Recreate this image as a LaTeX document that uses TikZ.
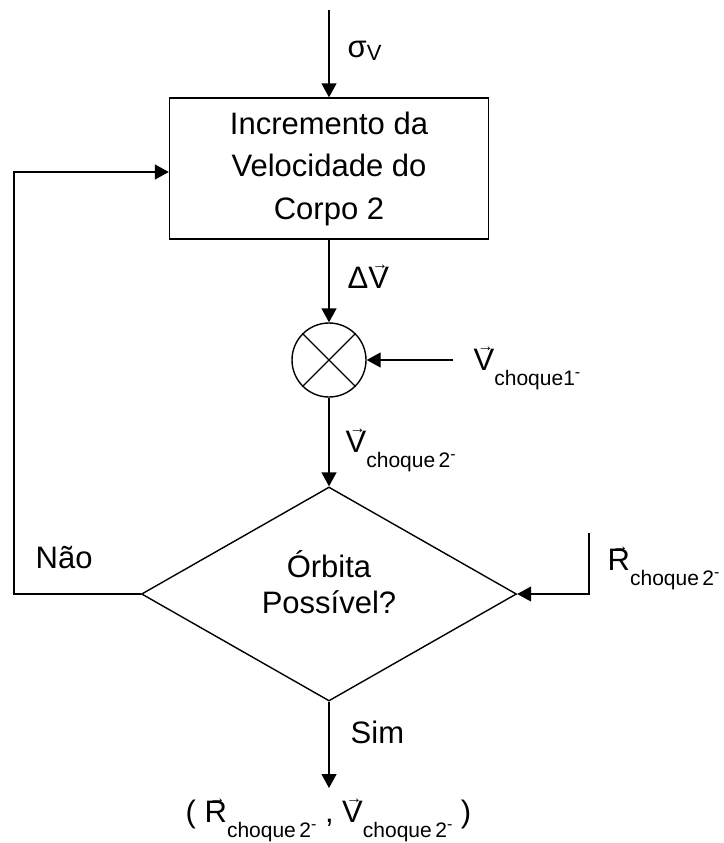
\documentclass[tikz,border=0pt]{standalone}
\usepackage{fontspec}
\setmainfont{Liberation Sans}
\usetikzlibrary{arrows.meta,shapes.geometric}
\newcommand\bigf{\fontsize{31}{42.5}\selectfont}
\newcommand\subf{\fontsize{21}{21}\selectfont}
\newcommand\vv[1]{\ooalign{#1\cr\hidewidth\kern3pt\raisebox{19pt}{\fontsize{16}{16}\selectfont →}\hidewidth\cr}}
\newcommand\vlab[2]{\vv{#1}\raisebox{-15pt}{\subf #2\raisebox{8pt}{\fontsize{16}{16}\selectfont -}}}
\begin{document}
\begin{tikzpicture}[x=1pt,y=-1pt, line width=1.4pt,
  >={Triangle[length=14pt,width=15pt]},
  arr/.style={->},
  lab/.style={anchor=base west, inner sep=0pt, font=\bigf},
  txt/.style={anchor=base, inner sep=0pt, font=\bigf}]
\useasboundingbox (0,0) rectangle (723,843);
% nodes
\node[draw, minimum width=319pt, minimum height=141pt, inner sep=0pt, align=center, font=\bigf] (box) at (329,168.5) {Incremento da\\Velocidade do\\Corpo 2};
\node[draw, circle, minimum size=74pt, inner sep=0pt] (sum) at (329,360) {};
\draw (sum.north west) -- (sum.south east) (sum.north east) -- (sum.south west);
\node[draw, diamond, aspect=1.75, minimum width=375pt, minimum height=214pt, inner sep=0pt] (dia) at (329,594) {};
\node[txt] (t1) at (329,577) {Órbita};
\node[txt] (t2) at (329,613) {Possível?};
% free ends
\coordinate (top) at (329,10);
\coordinate (vin) at (453,360);
\coordinate (rin) at (589,533);
\coordinate (fb) at (14,172);
\coordinate (out) at (329,788);
% connectors
\draw[arr] (top) -- (box.north);
\draw[arr] (box.south) -- (sum.north);
\draw[arr] (vin) -- (sum.east);
\draw[arr] (sum.south) -- (dia.north);
\draw[arr] (rin) |- (dia.east);
\draw[arr] (dia.west) -| (fb) -- (fb -| box.west);
\draw[arr] (dia.south) -- (out);
% labels
\node[lab] (sig) at (347,58) {σ\raisebox{-3pt}{\fontsize{22}{22}\selectfont V}};
\node[lab] (dv) at (347,288) {Δ\vv{V}};
\node[lab] (v1) at (473,370) {\vlab{V}{choque1}};
\node[lab] (v2) at (345,452) {\vlab{V}{choque\,2}};
\node[lab] (r2) at (607,570) {\vlab{R}{choque\,2}};
\node[lab] (nao) at (35,568) {Não};
\node[lab] (sim) at (350,743) {Sim};
\node[lab] (res) at (185,822) {( \vlab{R}{choque\,2} , \vlab{V}{choque\,2} )};
\end{tikzpicture}
\end{document}
